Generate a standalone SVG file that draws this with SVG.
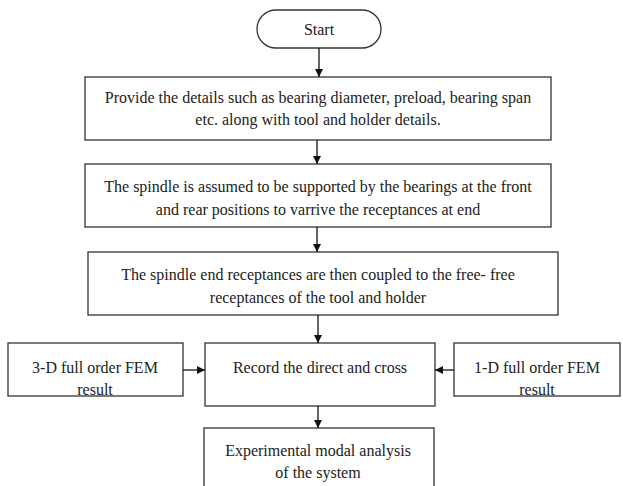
<svg xmlns="http://www.w3.org/2000/svg" width="623" height="486" viewBox="0 0 623 486">
<style>
.box{fill:#fff;stroke:#333;stroke-width:1.3}
.t{font-family:"Liberation Serif","Times New Roman",serif;font-size:16px;fill:#222;text-anchor:middle}
.c{stroke:#111;stroke-width:1.3;fill:none}
</style>
<defs>
<marker id="ah" markerWidth="10" markerHeight="10" refX="9" refY="5" orient="auto" markerUnits="userSpaceOnUse">
<path d="M1,1 L9,5 L1,9 z" fill="#111"/>
</marker>
</defs>
<rect width="623" height="486" fill="#fff"/>
<g id="start"><rect class="box" x="257" y="10" width="124" height="38" rx="19"/><text class="t" x="319" y="35">Start</text></g>
<g id="n1"><rect class="box" x="85" y="77" width="466" height="63"/><text class="t" x="318" y="103">Provide the details such as bearing diameter, preload, bearing span</text><text class="t" x="318" y="125">etc. along with tool and holder details.</text></g>
<g id="n2"><rect class="box" x="85" y="164" width="466" height="63"/><text class="t" x="318" y="192">The spindle is assumed to be supported by the bearings at the front</text><text class="t" x="318" y="215">and rear positions  to varrive the receptances at end</text></g>
<g id="n3"><rect class="box" x="88" y="252" width="470" height="63"/><text class="t" x="318" y="280">The spindle end receptances are then coupled to the free- free</text><text class="t" x="318" y="303">receptances of the tool and holder</text></g>
<g id="n4"><rect class="box" x="205" y="343" width="230" height="63"/><text class="t" x="320" y="373">Record the direct and cross</text></g>
<g id="n5"><rect class="box" x="8" y="343" width="175" height="53"/><text class="t" x="95" y="373">3-D full order FEM</text><text class="t" x="95" y="395">result</text></g>
<g id="n6"><rect class="box" x="454" y="343" width="166" height="53"/><text class="t" x="537" y="373">1-D full order FEM</text><text class="t" x="537" y="395">result</text></g>
<g id="n7"><rect class="box" x="204" y="428" width="230" height="70"/><text class="t" x="318" y="456">Experimental modal analysis</text><text class="t" x="318" y="478">of the system</text></g>
<g id="connectors">
<line class="c" x1="319" y1="48" x2="319" y2="77" marker-end="url(#ah)"/>
<line class="c" x1="317" y1="140" x2="317" y2="164" marker-end="url(#ah)"/>
<line class="c" x1="317" y1="227" x2="317" y2="252" marker-end="url(#ah)"/>
<line class="c" x1="318" y1="315" x2="318" y2="343" marker-end="url(#ah)"/>
<line class="c" x1="183" y1="370" x2="205" y2="370" marker-end="url(#ah)"/>
<line class="c" x1="454" y1="370" x2="435" y2="370" marker-end="url(#ah)"/>
<line class="c" x1="318" y1="406" x2="318" y2="428" marker-end="url(#ah)"/>
</g>
</svg>
